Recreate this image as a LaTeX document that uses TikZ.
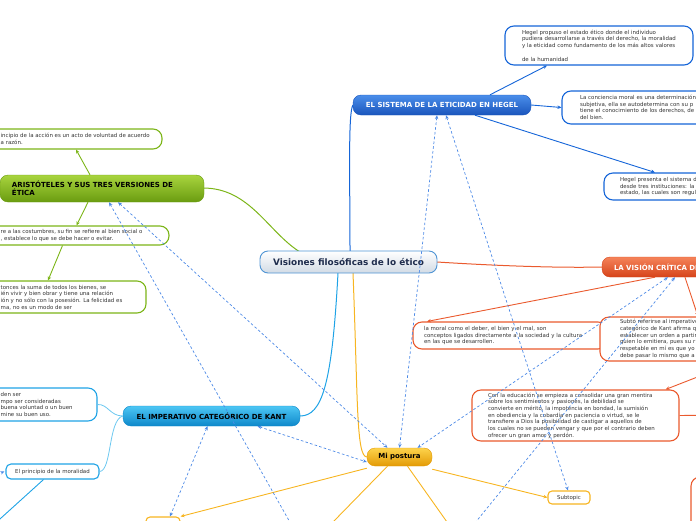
\documentclass[tikz,border=0pt]{standalone}
\usepackage{fontspec}
\setmainfont{DejaVu Sans}
\usetikzlibrary{arrows.meta}
\definecolor{txt}{HTML}{333333}
\definecolor{hegB}{HTML}{1565D8}
\definecolor{hegT}{HTML}{4A8EEA}
\definecolor{hegD}{HTML}{1A55BC}
\definecolor{arB}{HTML}{7CB518}
\definecolor{arT}{HTML}{A8D43E}
\definecolor{arD}{HTML}{6A9C10}
\definecolor{viB}{HTML}{EA5A2E}
\definecolor{viT}{HTML}{F5835A}
\definecolor{viD}{HTML}{D6441A}
\definecolor{kaB}{HTML}{1FA3E6}
\definecolor{kaL}{HTML}{6CC8F0}
\definecolor{kaT}{HTML}{4CC6F4}
\definecolor{kaD}{HTML}{0E88CA}
\definecolor{miB}{HTML}{F7B521}
\definecolor{miT}{HTML}{FDD34C}
\definecolor{miD}{HTML}{E39A05}
\definecolor{cenB}{HTML}{4F94D4}
\definecolor{cenD}{HTML}{D2DBE5}
\definecolor{navy}{HTML}{1F2D4D}
\definecolor{relB}{HTML}{4D8AE6}
\tikzset{
  small/.style={font=\fontsize{5.45}{6.7}\selectfont, text=txt},
  child/.style={small, draw, line width=1.1pt, rounded corners=9pt, fill=white, align=left, inner ysep=2pt},
  ltext/.style={small, anchor=west, align=left, inner sep=0pt},
  topic/.style={rounded corners=8pt, font=\fontsize{7}{8.4}\selectfont\bfseries, inner ysep=1pt},
  conn/.style={line width=0.9pt, -{Stealth[length=4pt,width=3.5pt]}},
  rel/.style={draw=relB, line width=0.7pt, dash pattern=on 2.6pt off 2.2pt,
    {Stealth[length=4pt,width=3.4pt]}-{Stealth[length=4pt,width=3.4pt]}},
  relend/.style={draw=relB, line width=0.7pt, dash pattern=on 2.6pt off 2.2pt,
    -{Stealth[length=4pt,width=3.4pt]}}
}
\begin{document}
\begin{tikzpicture}[x=1pt,y=-1pt]
\useasboundingbox (0,0) rectangle (696,520);
\clip (0,0) rectangle (696,520);

% ---------- main connectors (under nodes) ----------
\coordinate (cN) at (350,251);
\draw[hegB, line width=1pt] (cN) .. controls (350,180) and (348,112) .. (353,105);
\draw[kaB, line width=1pt] (338,273) .. controls (332,385) and (322,416) .. (300,416);
\draw[arB, line width=1pt] (203,188) .. controls (250,188) and (268,232) .. (300,252);
\draw[viB, line width=1pt] (437,262) .. controls (500,266) and (560,268) .. (602,267);
\draw[miB, line width=1pt] (353,273) .. controls (358,400) and (356,457) .. (367,457);

% ---------- central ----------
\node[draw=cenB, line width=0.9pt, rounded corners=8pt, top color=white, bottom color=cenD,
  minimum width=177pt, minimum height=22pt, font=\fontsize{8.9}{10}\selectfont\bfseries, text=navy]
  (central) at (348.5,262) {Visiones filosóficas de lo ético};

% ---------- Hegel ----------
\node[topic, top color=hegT, bottom color=hegD, draw=hegD, text=white, minimum width=178pt, minimum height=20pt]
  (hegel) at (442,105) {EL SISTEMA DE LA ETICIDAD EN HEGEL};
\node[child, draw=hegB, text width=154pt, inner xsep=17pt, minimum height=39pt] (h1) at (599,45.5)
  {Hegel propuso el estado ético donde el individuo\\pudiera desarrollarse a través del derecho, la moralidad\\y la eticidad como fundamento de los más altos valores\\\mbox{}\\de la humanidad};
\node[child, draw=hegB, text width=162pt, inner xsep=18pt, minimum height=33pt] (h2) at (661,107.5)
  {La conciencia moral es una determinación\\subjetiva, ella se autodetermina con su p\\tiene el conocimiento de los derechos, de\\del bien.};
\node[child, draw=hegB, text width=124pt, inner xsep=16pt, minimum height=27pt] (h3) at (682,186.5)
  {Hegel presenta el sistema d\\desde tres instituciones: la\\estado, las cuales son regul};
\draw[conn, hegB] ([xshift=48pt]hegel.north) -- ([xshift=-52pt]h1.south);
\draw[conn, hegB] (hegel.east) -- (h2.west);
\draw[conn, hegB] ([xshift=33pt]hegel.south) -- ([xshift=-27pt]h3.north);

% ---------- Aristoteles ----------
\node[topic, top color=arT, bottom color=arD, draw=arD, text=black, align=left, text width=180pt,
  inner xsep=12pt, minimum height=27pt] (aris) at (102,188.5)
  {ARISTÓTELES Y SUS TRES VERSIONES DE\\ÉTICA};
\node[child, draw=arB, minimum width=192pt, minimum height=20pt] (a1) at (66,139) {};
\node[ltext] (a1t) at (0.5,139) {incipio de la acción es un acto de voluntad de acuerdo\\a razón.};
\node[child, draw=arB, minimum width=199pt, minimum height=19pt] (a2) at (69.5,235.5) {};
\node[ltext] (a2t) at (0.5,235.5) {re a las costumbres, su fin se refiere al bien social o\\, establece lo que se debe hacer o evitar.};
\node[child, draw=arB, minimum width=176pt, minimum height=32pt] (a3) at (58,297) {};
\node[ltext] (a3t) at (0.5,297.5) {tonces la suma de todos los bienes, se\\ién vivir y bien obrar y tiene una relación\\ión y no sólo con la posesión. La felicidad es\\ma, no es un modo de ser};
\draw[conn, arB] ([xshift=-12pt]aris.north) -- ([xshift=10pt]a1.south);
\draw[conn, arB] ([xshift=-14pt]aris.south) -- ([xshift=7pt]a2.north);
\draw[conn, arB] ([xshift=-7pt]a2.south) -- ([xshift=-10pt]a3.north);

% ---------- Vision critica ----------
\node[topic, top color=viT, bottom color=viD, draw=viD, text=white, align=left, text width=150pt,
  inner xsep=12pt, minimum height=20pt] (vis) at (689,267) {LA VISIÓN CRÍTICA DE NIETZSCHE};
\node[child, draw=viB, text width=172pt, inner xsep=11pt, minimum height=27pt] (va) at (510,335.5)
  {la moral como el deber, el bien y el mal, son\\conceptos ligados directamente a la sociedad y la cultura\\en las que se desarrollen.};
\node[child, draw=viB, text width=140pt, inner xsep=20pt, minimum height=44pt] (vb) at (690,339)
  {Subtó referirse al imperativo\\categórico de Kant afirma que\\establecer un orden a partir\\quien lo emitiera, pues su r\\respetable en mí es que yo\\debe pasar lo mismo que a};
\node[child, draw=viB, text width=175pt, inner xsep=16pt, minimum height=51pt] (vc) at (575.5,415.5)
  {Con la educación se empieza a consolidar una gran mentira\\sobre los sentimientos y pasiones, la debilidad se\\convierte en mérito, la impotencia en bondad, la sumisión\\en obediencia y la cobardía en paciencia o virtud, se le\\transfiere a Dios la posibilidad de castigar a aquellos de\\los cuales no se pueden vengar y que por el contrario deben\\ofrecer un gran amor y perdón.};
\node[child, draw=viB, minimum width=110pt, minimum height=70pt] (vd) at (746,512) {};
\draw[conn, viB] ([xshift=-34pt]vis.south) -- ([xshift=-83pt]va.north);
\draw[conn, viB] ([xshift=-4pt]vis.south) -- ([xshift=8pt]vb.north);
\draw[conn, viB] ([xshift=47pt]vb.south) -- ([xshift=-14pt]vc.north east);
\coordinate (vcr) at (720,415);
\draw[viB, line width=0.9pt] (vc.east) -- (vcr);

% ---------- Kant ----------
\node[topic, top color=kaT, bottom color=kaD, draw=kaD, text=black, minimum width=177pt, minimum height=20pt]
  (kant) at (211.5,416) {EL IMPERATIVO CATEGÓRICO DE KANT};
\node[child, draw=kaB, minimum width=127pt, minimum height=33pt] (k1) at (33.5,404.5) {};
\node[ltext] (k1t) at (0.5,404.5) {den ser\\mpo ser consideradas\\buena voluntad o un buen\\mine su buen uso.};
\node[child, draw=kaB, rounded corners=5pt, align=center, minimum width=93pt, minimum height=15pt] (k2) at (52.5,471.5)
  {El principio de la moralidad};
\draw[kaL, line width=0.8pt] (kant.west) .. controls (110,416) and (108,404) .. (k1.east);
\draw[kaL, line width=0.8pt] (kant.west) .. controls (108,420) and (112,471) .. (k2.east);
\coordinate (kout) at (-10,528);
\draw[kaB, line width=0.9pt] ([xshift=-9pt]k2.south) -- (kout);

% ---------- Mi postura ----------
\node[topic, top color=miT, bottom color=miD, draw=miD, text=black, font=\fontsize{7}{8}\selectfont\bfseries,
  minimum width=65pt, minimum height=18pt] (mi) at (399.5,457) {Mi postura};
\node[child, draw=miB, rounded corners=4pt, align=center, minimum width=42pt, minimum height=13pt,
  inner ysep=1pt] (sub) at (569,497.5) {Subtopic};
\node[child, draw=miB, rounded corners=4pt, minimum width=34pt, minimum height=24pt] (yb) at (163,529) {};
\draw[conn, miB] ([yshift=-3pt]mi.south east) -- (sub.west);
\draw[conn, miB] ([yshift=-2pt]mi.south west) -- (yb.north east);
\coordinate (m2) at (333,522);
\coordinate (m3) at (447,522);
\draw[miB, line width=0.9pt] ([xshift=-12pt]mi.south) -- (m2);
\draw[miB, line width=0.9pt] ([xshift=8pt]mi.south) -- (m3);

% ---------- dashed relationships ----------
\coordinate (ar2) at (300,540);
\coordinate (vi2) at (466,534);
\coordinate (kin) at (-12,478);
\draw[rel] ([xshift=16pt]aris.south) -- ([xshift=-12pt]mi.north);
\draw[rel] ([xshift=7pt]aris.south) -- (ar2);
\draw[rel] ([xshift=-5pt]hegel.south) -- ([xshift=0pt]mi.north);
\draw[rel] ([xshift=4pt]hegel.south) -- ([xshift=-1pt]sub.north);
\draw[rel] ([xshift=-21pt]vis.south) -- ([xshift=18pt]mi.north);
\draw[rel] ([xshift=-14pt]vis.south) -- (vi2);
\draw[rel] ([xshift=46pt]kant.south) -- ([yshift=-5pt]mi.west);
\draw[rel] ([xshift=-4pt]kant.south) -- ([xshift=7pt]yb.north);
\draw[relend] (kin) -- ([xshift=-1pt]k2.west);
\end{tikzpicture}
\end{document}
